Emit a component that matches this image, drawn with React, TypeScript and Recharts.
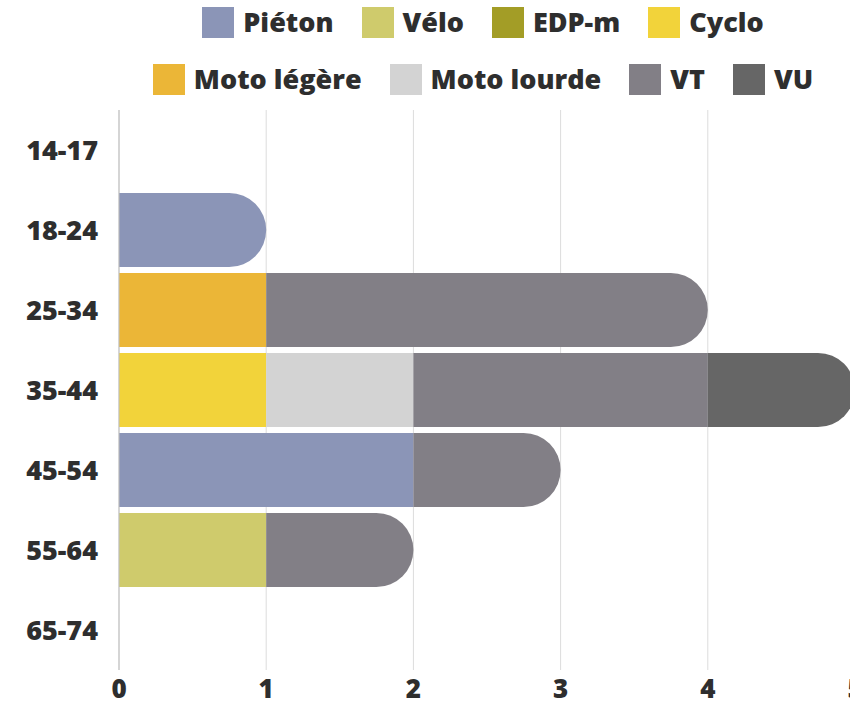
import React from "react";
import {
  BarChart,
  Bar,
  XAxis,
  YAxis,
  CartesianGrid,
  Legend,
} from "recharts";

// Age groups, top to bottom
const ages = ["14-17", "18-24", "25-34", "35-44", "45-54", "55-64", "65-74"];

// counts per user type, one value per age group
const pieton = [0, 1, 0, 0, 2, 0, 0];
const velo = [0, 0, 0, 0, 0, 1, 0];
const edpm = [0, 0, 0, 0, 0, 0, 0];
const cyclo = [0, 0, 0, 1, 0, 0, 0];
const motoLegere = [0, 0, 1, 0, 0, 0, 0];
const motoLourde = [0, 0, 0, 1, 0, 0, 0];
const vt = [0, 0, 3, 2, 1, 1, 0];
const vu = [0, 0, 0, 1, 0, 0, 0];

const xTicks = [0, 1, 2, 3, 4, 5];

const series = [
  { key: "pieton", name: "Piéton", color: "#8b95b7", values: pieton },
  { key: "velo", name: "Vélo", color: "#cfcb6c", values: velo },
  { key: "edpm", name: "EDP-m", color: "#a39d26", values: edpm },
  { key: "cyclo", name: "Cyclo", color: "#f2d33a", values: cyclo },
  { key: "motoLegere", name: "Moto légère", color: "#ebb637", values: motoLegere },
  { key: "motoLourde", name: "Moto lourde", color: "#d3d3d3", values: motoLourde },
  { key: "vt", name: "VT", color: "#827f86", values: vt },
  { key: "vu", name: "VU", color: "#666666", values: vu },
];

const legendRows = [
  ["Piéton", "Vélo", "EDP-m", "Cyclo"],
  ["Moto légère", "Moto lourde", "VT", "VU"],
];

const data = ages.map((age, i) => {
  const row: Record<string, string | number> = { age };
  series.forEach((s) => (row[s.key] = s.values[i]));
  return row;
});

const FONT = "'Open Sans', sans-serif";
const INK = "#2e2e2e";

// last non-empty segment of a stack gets the rounded right end
function makeShape(idx: number) {
  return (props: any) => {
    const { x, y, width, height, fill, payload } = props;
    if (!width || width <= 0) return null;
    const isEnd = !series.slice(idx + 1).some((s) => (payload?.[s.key] ?? 0) > 0);
    if (!isEnd) {
      return <rect x={x} y={y} width={width} height={height} fill={fill} />;
    }
    const r = Math.min(height / 2, width);
    const d = `M${x},${y} H${x + width - r} A${r},${r} 0 0 1 ${x + width},${y + r} V${y + height - r} A${r},${r} 0 0 1 ${x + width - r},${y + height} H${x} Z`;
    return <path d={d} fill={fill} />;
  };
}

function LegendBox() {
  return (
    <div style={{ width: 966, height: 110, paddingTop: 6, boxSizing: "border-box", fontFamily: FONT }}>
      {legendRows.map((row, ri) => (
        <div
          key={ri}
          style={{
            display: "flex",
            justifyContent: "center",
            alignItems: "center",
            gap: 28,
            height: 32,
            marginTop: ri === 0 ? 0 : 25,
          }}
        >
          {row.map((name) => {
            const s = series.find((q) => q.name === name)!;
            return (
              <div key={name} style={{ display: "flex", alignItems: "center", gap: 9 }}>
                <span style={{ width: 32, height: 31, background: s.color, display: "inline-block" }} />
                <span style={{ fontSize: 27, fontWeight: 800, color: INK, lineHeight: "30px" }}>
                  {name}
                </span>
              </div>
            );
          })}
        </div>
      ))}
    </div>
  );
}

export default function App() {
  return (
    <div style={{ position: "fixed", left: 0, top: 0, width: 850, height: 707, overflow: "hidden", background: "#fff" }}>
      <BarChart
        width={880}
        height={707}
        data={data}
        layout="vertical"
        margin={{ top: 0, right: 25, bottom: 0, left: 0 }}
      >
        <Legend
          verticalAlign="top"
          align="left"
          wrapperStyle={{ left: 0, top: 0 }}
          content={() => <LegendBox />}
        />
        <CartesianGrid horizontal={false} stroke="#dcdcdc" />
        <XAxis
          type="number"
          domain={[0, 5]}
          ticks={xTicks}
          axisLine={false}
          tickLine={false}
          tickSize={0}
          tickMargin={10}
          height={37}
          interval={0}
          tick={{ fill: INK, fontSize: 26, fontWeight: 800, fontFamily: FONT }}
        />
        <YAxis
          type="category"
          dataKey="age"
          width={119}
          axisLine={{ stroke: "#bdbdbd" }}
          tickLine={false}
          tickSize={0}
          tickMargin={21}
          interval={0}
          tick={{ fill: INK, fontSize: 27, fontWeight: 800, fontFamily: FONT }}
        />
        {series.map((s, i) => (
          <Bar
            key={s.key}
            dataKey={s.key}
            name={s.name}
            stackId="a"
            fill={s.color}
            barSize={74}
            isAnimationActive={false}
            shape={makeShape(i)}
          />
        ))}
      </BarChart>
    </div>
  );
}
